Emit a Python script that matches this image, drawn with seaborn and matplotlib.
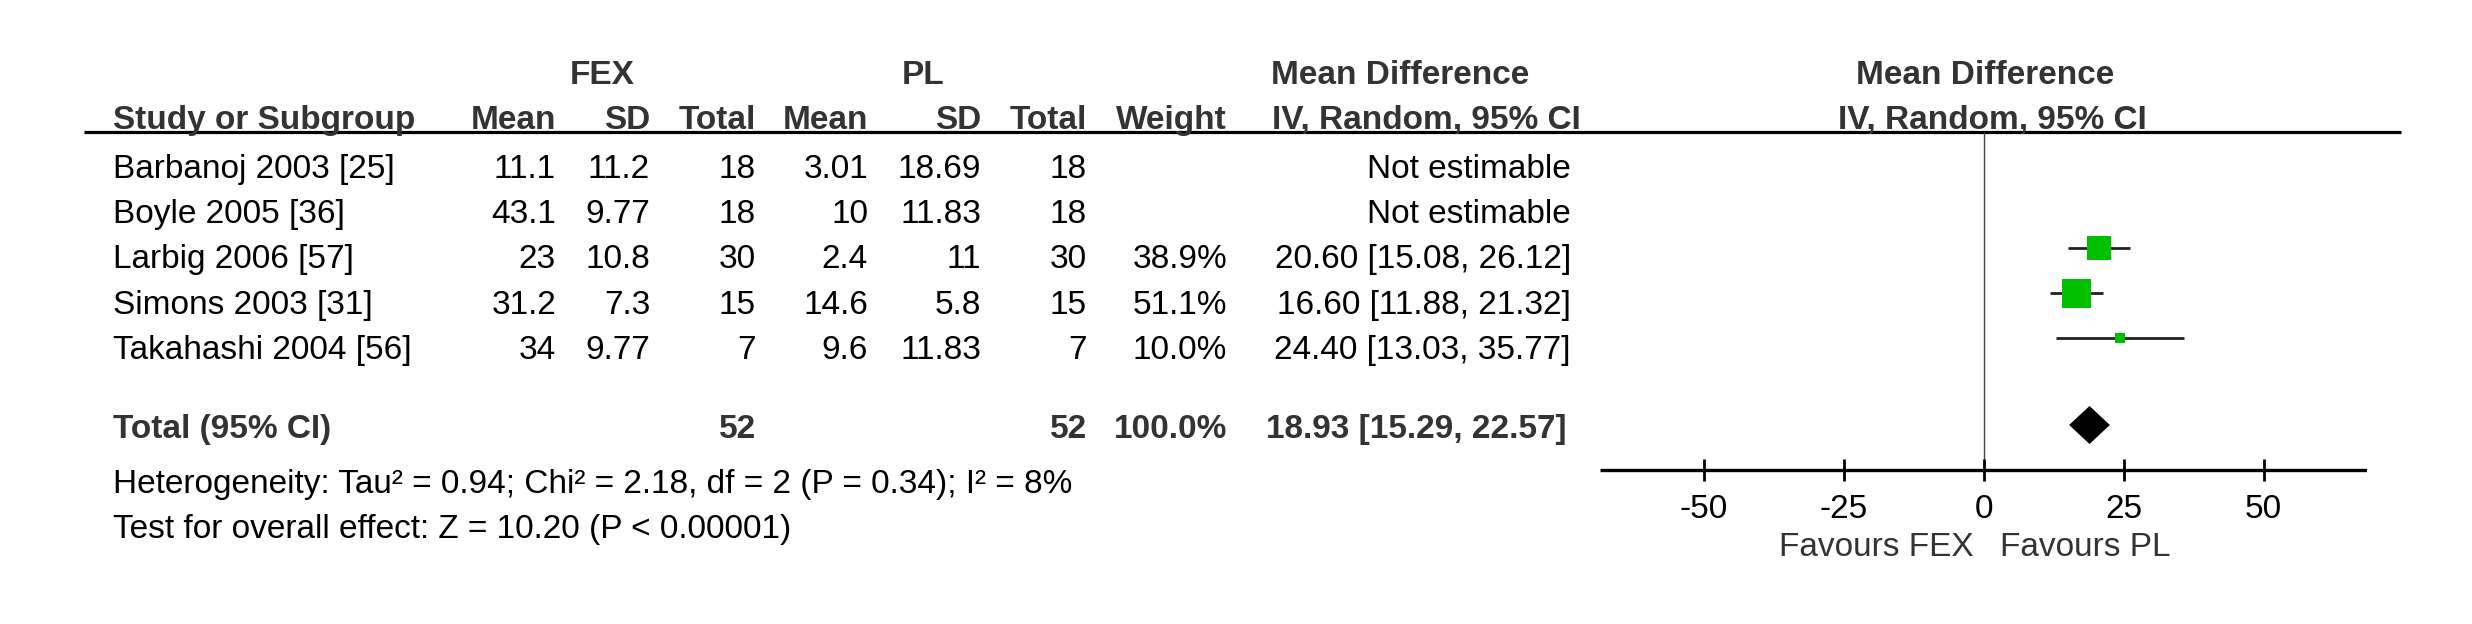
import numpy as np
import pandas as pd
import matplotlib
matplotlib.use("Agg")
import matplotlib.pyplot as plt
import seaborn as sns

# data
studies = ["Barbanoj 2003 [25]", "Boyle 2005 [36]", "Larbig 2006 [57]",
           "Simons 2003 [31]", "Takahashi 2004 [56]"]
fex_mean = [11.1, 43.1, 23, 31.2, 34]
fex_sd = [11.2, 9.77, 10.8, 7.3, 9.77]
fex_n = [18, 18, 30, 15, 7]
pl_mean = [3.01, 10, 2.4, 14.6, 9.6]
pl_sd = [18.69, 11.83, 11, 5.8, 11.83]
pl_n = [18, 18, 30, 15, 7]
weight = [np.nan, np.nan, 38.9, 51.1, 10.0]
md = [np.nan, np.nan, 20.60, 16.60, 24.40]
ci_lo = [np.nan, np.nan, 15.08, 11.88, 13.03]
ci_hi = [np.nan, np.nan, 26.12, 21.32, 35.77]

total_fex_n = 52
total_pl_n = 52
total_weight = 100.0
total_md, total_lo, total_hi = 18.93, 15.29, 22.57

heterogeneity = "Heterogeneity: Tau² = 0.94; Chi² = 2.18, df = 2 (P = 0.34); I² = 8%"
overall = "Test for overall effect: Z = 10.20 (P < 0.00001)"
ticks = [-50, -25, 0, 25, 50]

df = pd.DataFrame({"study": studies, "md": md, "lo": ci_lo, "hi": ci_hi,
                   "weight": weight})

sns.set_style("white")
plt.rcParams["font.family"] = ["Liberation Sans", "DejaVu Sans"]

W, H = 2472, 624
fig = plt.figure(figsize=(W / 100, H / 100), dpi=100)
ax = fig.add_axes([0, 0, 1, 1])
ax.set_xlim(0, W)
ax.set_ylim(H, 0)
ax.axis("off")

fs = 24
head = dict(fontsize=fs, fontweight="bold", color="#333333", va="baseline")
body = dict(fontsize=fs, color="black", va="baseline")

# column layout (pixels)
x_study = 113
cols = [556, 650, 756, 868, 981, 1087, 1227]
x_ci = 1571
row0, step = 178, 45.2
rows = [row0 + i * step for i in range(len(studies))]
y_total = 438

# header
ax.text(602, 84, "FEX", ha="center", **head)
ax.text(923, 84, "PL", ha="center", **head)
ax.text(1271, 84, "Mean Difference", ha="left", **head)
ax.text(1985, 84, "Mean Difference", ha="center", **head)
ax.text(x_study, 129, "Study or Subgroup", ha="left", **head)
for x, lab in zip(cols, ["Mean", "SD", "Total", "Mean", "SD", "Total", "Weight"]):
    ax.text(x, 129, lab, ha="right", **head)
ax.text(1272, 129, "IV, Random, 95% CI", ha="left", **head)
ax.text(1992, 129, "IV, Random, 95% CI", ha="center", **head)
ax.plot([84, 2401], [131.5, 131.5], color="black", lw=2.3, solid_capstyle="butt")

# study rows
for i, y in enumerate(rows):
    ax.text(x_study, y, studies[i], ha="left", **body)
    vals = [f"{fex_mean[i]:g}", f"{fex_sd[i]:g}", str(fex_n[i]),
            f"{pl_mean[i]:g}", f"{pl_sd[i]:g}", str(pl_n[i]),
            "" if np.isnan(weight[i]) else f"{weight[i]:.1f}%"]
    for x, v in zip(cols, vals):
        ax.text(x, y, v, ha="right", **body)
    if np.isnan(md[i]):
        ci_txt = "Not estimable"
    else:
        ci_txt = f"{md[i]:.2f} [{ci_lo[i]:.2f}, {ci_hi[i]:.2f}]"
    ax.text(x_ci, y, ci_txt, ha="right", **body)

# total row
ax.text(x_study, y_total, "Total (95% CI)", ha="left", **head)
ax.text(cols[2], y_total, str(total_fex_n), ha="right", **head)
ax.text(cols[5], y_total, str(total_pl_n), ha="right", **head)
ax.text(cols[6], y_total, f"{total_weight:.1f}%", ha="right", **head)
ax.text(1566, y_total, f"{total_md:.2f} [{total_lo:.2f}, {total_hi:.2f}]",
        ha="right", **head)
ax.text(x_study, 493, heterogeneity, ha="left", **body)
ax.text(x_study, 538, overall, ha="left", **body)

# forest panel
zero_px, unit_px, lim = 1983.5, 5.6, 68.5
x0 = zero_px - lim * unit_px
fx = fig.add_axes([x0 / W, 0, 2 * lim * unit_px / W, 1])

df["y"] = [r - 20.4 for r in rows]
est = df.dropna(subset=["md"])
fx.vlines(0, 132, 470, color="#444444", lw=1.0)
fx.hlines(est["y"], est["lo"], est["hi"], color="#222222", lw=2.0)
sns.scatterplot(data=est, x="md", y="y", size="weight", sizes=(52, 427),
                size_norm=(10.0, 51.1), marker="s", color="#00c000",
                linewidth=0, legend=False, ax=fx, zorder=3)
fx.set_xlim(-lim, lim)
fx.set_ylim(H, 0)
fx.axis("off")

yd, hd = 425, 19
fx.fill([total_lo, total_md, total_hi, total_md], [yd, yd - hd, yd, yd + hd],
        color="black", lw=0, zorder=3)

fx.hlines(470, -lim, lim, color="black", lw=2.4)
fx.vlines(ticks, 459, 481, color="black", lw=2.0)
for t in ticks:
    fx.text(t, 518, f"{t}", ha="center", va="baseline", fontsize=fs, color="black")

ax.text(1974, 556, "Favours FEX", ha="right", va="baseline", fontsize=fs, color="#333333")
ax.text(2000, 556, "Favours PL", ha="left", va="baseline", fontsize=fs, color="#333333")

fig.savefig("out.png", dpi=100, facecolor="white")
